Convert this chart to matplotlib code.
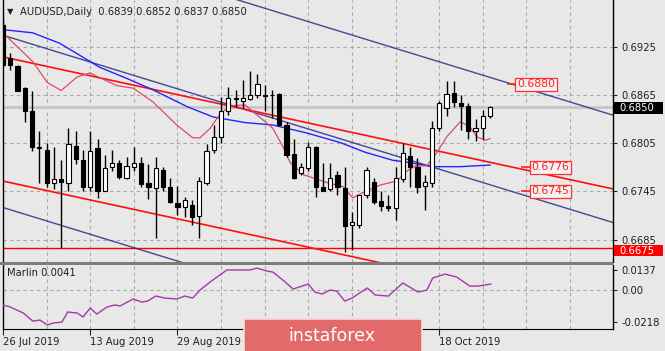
import numpy as np
import matplotlib
matplotlib.use("Agg")
import matplotlib.pyplot as plt
from matplotlib.patches import Rectangle

# ---- data ----
symbol_title = "AUDUSD,Daily  0.6839 0.6852 0.6837 0.6850"

opens = [0.6953, 0.6912, 0.6902, 0.6874, 0.6845, 0.6801, 0.6797, 0.6755, 0.6760, 0.6756,
         0.6802, 0.6784, 0.6750, 0.6799, 0.6746, 0.6775, 0.6781, 0.6762, 0.6775, 0.6781,
         0.6756, 0.6749, 0.6772, 0.6750, 0.6731, 0.6726, 0.6728, 0.6715, 0.6756, 0.6797,
         0.6813, 0.6845, 0.6862, 0.6858, 0.6860, 0.6866, 0.6865, 0.6865, 0.6867, 0.6828,
         0.6792, 0.6768, 0.6774, 0.6801, 0.6750, 0.6748, 0.6765, 0.6749, 0.6703, 0.6703,
         0.6741, 0.6757, 0.6733, 0.6727, 0.6724, 0.6761, 0.6789, 0.6775, 0.6752, 0.6756,
         0.6824, 0.6849, 0.6868, 0.6856, 0.6852, 0.6820, 0.6824, 0.6839]
highs = [0.6962, 0.6918, 0.6903, 0.6876, 0.6870, 0.6820, 0.6806, 0.6801, 0.6784, 0.6824,
         0.6820, 0.6797, 0.6820, 0.6810, 0.6791, 0.6797, 0.6784, 0.6788, 0.6800, 0.6788,
         0.6779, 0.6788, 0.6776, 0.6762, 0.6752, 0.6738, 0.6734, 0.6763, 0.6804, 0.6828,
         0.6863, 0.6876, 0.6872, 0.6884, 0.6895, 0.6892, 0.6878, 0.6872, 0.6868, 0.6832,
         0.6810, 0.6781, 0.6807, 0.6802, 0.6781, 0.6781, 0.6770, 0.6775, 0.6720, 0.6741,
         0.6776, 0.6762, 0.6745, 0.6741, 0.6775, 0.6806, 0.6801, 0.6787, 0.6766, 0.6833,
         0.6858, 0.6883, 0.6883, 0.6866, 0.6856, 0.6836, 0.6847, 0.6852]
lows = [0.6900, 0.6897, 0.6870, 0.6832, 0.6795, 0.6756, 0.6750, 0.6748, 0.6675, 0.6745,
        0.6779, 0.6745, 0.6745, 0.6737, 0.6745, 0.6770, 0.6760, 0.6760, 0.6770, 0.6750,
        0.6736, 0.6687, 0.6745, 0.6731, 0.6716, 0.6713, 0.6703, 0.6687, 0.6753, 0.6793,
        0.6806, 0.6841, 0.6851, 0.6849, 0.6859, 0.6862, 0.6845, 0.6837, 0.6827, 0.6788,
        0.6760, 0.6766, 0.6770, 0.6738, 0.6746, 0.6745, 0.6741, 0.6670, 0.6672, 0.6700,
        0.6737, 0.6730, 0.6721, 0.6721, 0.6710, 0.6757, 0.6750, 0.6743, 0.6722, 0.6751,
        0.6820, 0.6839, 0.6851, 0.6822, 0.6811, 0.6808, 0.6811, 0.6837]
closes = [0.6903, 0.6903, 0.6871, 0.6845, 0.6800, 0.6799, 0.6756, 0.6761, 0.6757, 0.6804,
          0.6785, 0.6750, 0.6796, 0.6746, 0.6774, 0.6780, 0.6763, 0.6777, 0.6781, 0.6754,
          0.6750, 0.6774, 0.6750, 0.6732, 0.6726, 0.6734, 0.6713, 0.6758, 0.6796, 0.6813,
          0.6846, 0.6862, 0.6860, 0.6862, 0.6866, 0.6879, 0.6864, 0.6865, 0.6828, 0.6791,
          0.6762, 0.6775, 0.6800, 0.6750, 0.6746, 0.6762, 0.6751, 0.6702, 0.6707, 0.6740,
          0.6772, 0.6732, 0.6727, 0.6725, 0.6762, 0.6793, 0.6776, 0.6751, 0.6757, 0.6824,
          0.6856, 0.6867, 0.6857, 0.6852, 0.6820, 0.6824, 0.6839, 0.6850]

# slow moving average (blue)
blue_ma_x = [0, 4.1, 7.8, 13.3, 16.8, 20.6, 25.3, 28.9, 33.3, 37.1, 41.8, 46.4, 49.8,
             53.6, 56, 59.1, 62.9, 67]
blue_ma_y = [0.6947, 0.6943, 0.6930, 0.6900, 0.6887, 0.6872, 0.6851, 0.6838, 0.6831,
             0.6828, 0.6818, 0.6806, 0.6794, 0.6784, 0.6781, 0.6776, 0.6776, 0.6778]

# fast moving average (crimson)
red_ma_x = [0, 4.1, 6.1, 8.0, 10.2, 12.0, 13.3, 15.7, 17.9, 20.6, 23.9, 26.1, 27.1, 28.5,
            29.8, 31.2, 33.3, 35.4, 37.1, 38.5, 39.5, 41.3, 42.6, 44.6, 46.8, 48.1, 49.8,
            51.9, 53.2, 54.2, 55.3, 56.7, 58.3, 59.7, 61.1, 62.9, 64.2, 65.2, 66.3, 67.0]
red_ma_y = [0.6943, 0.6907, 0.6881, 0.6871, 0.6888, 0.6893, 0.6887, 0.6877, 0.6874,
            0.6857, 0.6828, 0.6812, 0.6812, 0.6824, 0.6841, 0.6852, 0.6853, 0.6837,
            0.6824, 0.6801, 0.6781, 0.6766, 0.6762, 0.6756, 0.6751, 0.6737, 0.6745,
            0.6753, 0.6756, 0.6758, 0.6769, 0.6777, 0.6777, 0.6794, 0.6814, 0.6832,
            0.6826, 0.6813, 0.6809, 0.6811]

# Marlin oscillator
marlin_x = [0, 1.0, 2.8, 4.1, 5.1, 6.1, 6.9, 8.1, 8.9, 10.2, 11.0, 12.0, 12.9, 14.3, 15.4,
            16.1, 17.9, 19.1, 19.9, 21.0, 22.3, 23.9, 25.0, 26.1, 27.1, 28.5, 29.8, 30.8,
            34.0, 34.9, 36.3, 37.1, 38.5, 39.9, 42.0, 42.9, 43.9, 45.0, 45.9, 47.0, 48.0,
            50.1, 51.2, 53.0, 55.0, 57.1, 58.3, 59.1, 60.8, 62.4, 64.2, 65.3, 67.1]
marlin_y = [-0.0102, -0.0116, -0.0157, -0.0212, -0.0205, -0.0239, -0.0225, -0.0219,
            -0.0150, -0.0157, -0.0184, -0.0123, -0.0164, -0.0116, -0.0102, -0.0109,
            -0.0061, -0.0082, -0.0075, -0.0041, -0.0055, -0.0061, -0.0041, -0.0055,
            0.0, 0.0055, 0.0102, 0.0137, 0.0137, 0.0150, 0.0130, 0.0123, 0.0068, 0.0007,
            0.0041, -0.0014, -0.0027, 0.0, -0.0007, -0.0075, -0.0055, 0.0014, -0.0034,
            -0.0041, 0.0048, -0.0014, 0.0, 0.0082, 0.0109, 0.0089, 0.0027, 0.0027, 0.0041]

# trend lines: (bar start, bar end), (price start, price end)
navy_upper = ([0, 84], [0.7074, 0.6840])
navy_mid = ([0, 84], [0.6940, 0.6706])
navy_lower = ([0, 84], [0.6725, 0.6491])
red_upper = ([0, 84], [0.6913, 0.6748])
red_lower = ([0, 84], [0.6758, 0.6593])
support_level = 0.6675
last_price = 0.6850

# price labels placed on the lines
level_labels = [("0.6880", 69.4, 0.6879), ("0.6776", 71.4, 0.6775), ("0.6745", 71.4, 0.6745)]

date_pos = [0, 12, 24, 60]
date_labels = ["26 Jul 2019", "13 Aug 2019", "29 Aug 2019", "18 Oct 2019"]
price_ticks = [0.6925, 0.6865, 0.6805, 0.6745, 0.6685]
marlin_ticks = [0.0137, 0.0, -0.0218]
marlin_labels = ["0.0137", "0.00", "-0.0218"]

# ---- layout ----
W, H = 665, 351
bg = "#e8e8e8"
grid_c = "#a8a8a8"
fs = 7.2
plt.rcParams["font.family"] = ["DejaVu Sans"]


def fx(px):
    return px / W


def fy(py):
    return 1 - py / H


fig = plt.figure(figsize=(W / 100, H / 100), dpi=100, facecolor=bg)
ax = fig.add_axes([fx(3), fy(262), fx(613) - fx(3), fy(0) - fy(262)], facecolor=bg)
axm = fig.add_axes([fx(3), fy(329), fx(613) - fx(3), fy(265) - fy(329)], facecolor=bg, sharex=ax)

x_max = 83.9
ax.set_xlim(0, x_max)
ax.set_ylim(0.6657, 0.6984)
axm.set_ylim(-0.0266, 0.0171)

# grid
for a in (ax, axm):
    for gx in range(6, 84, 6):
        a.axvline(gx, color=grid_c, lw=0.8, ls=(0, (3, 3)), zorder=0)
for t in price_ticks:
    ax.axhline(t, color=grid_c, lw=0.8, ls=(0, (3, 3)), zorder=0)
axm.axhline(0, color=grid_c, lw=0.8, ls=(0, (3, 3)), zorder=0)

# current price line and support level
ax.axhline(last_price, color="#c6c6c6", lw=2, zorder=1)
ax.axhline(support_level, color="#ff0000", lw=1, zorder=2)

# trend lines
for ln in (navy_upper, navy_mid, navy_lower):
    ax.plot(ln[0], ln[1], color="#2b2b86", lw=1, alpha=0.85, zorder=2)
for ln in (red_upper, red_lower):
    ax.plot(ln[0], ln[1], color="#ff1010", lw=1.2, zorder=2)

# moving averages
ax.plot(blue_ma_x, blue_ma_y, color="#2424ff", lw=1, zorder=3)
ax.plot(red_ma_x, red_ma_y, color="#e04a64", lw=0.9, zorder=3)

# candles
idx = np.arange(len(opens))
o = np.array(opens)
c = np.array(closes)
ax.vlines(idx, lows, highs, color="black", lw=1, zorder=4)
faces = ["white" if cc >= oo else "black" for oo, cc in zip(o, c)]
ax.bar(idx, c - o, bottom=o, width=0.58, color=faces, edgecolor="black", lw=0.8, zorder=5)

# level labels
for txt, bx, py in level_labels:
    ax.plot([bx, bx + 1.3], [py, py], color="#ff2020", lw=1.2, zorder=6)
    ax.text(bx + 1.3, py, txt, color="#ff2020", fontsize=7.8, va="center", ha="left", zorder=7,
            bbox=dict(boxstyle="square,pad=0.15", fc="#f2f2f2", ec="#ff3030", lw=0.9))

# axes styling
for a in (ax, axm):
    a.spines["top"].set_visible(False)
    for s in ("left", "right"):
        a.spines[s].set_color("black")
        a.spines[s].set_linewidth(1)
    a.yaxis.tick_right()
    a.tick_params(axis="y", direction="out", length=3, pad=3, labelsize=fs, colors="#202020")
ax.spines["bottom"].set_visible(False)
axm.spines["bottom"].set_color("black")
ax.set_yticks(price_ticks)
ax.set_yticklabels(["%.4f" % t for t in price_ticks])
ax.tick_params(axis="x", bottom=False, labelbottom=False)
axm.set_yticks(marlin_ticks)
axm.set_yticklabels(marlin_labels)

axm.set_xticks(date_pos)
axm.set_xticklabels(date_labels)
axm.tick_params(axis="x", direction="out", length=4, pad=2, labelsize=fs, colors="#202020")
for lab in axm.get_xticklabels():
    lab.set_horizontalalignment("left")

# marlin line
axm.plot(marlin_x, marlin_y, color="#a23aa8", lw=1, zorder=3)

# separator between panels
fig.patches.append(Rectangle((0, fy(265)), fx(613), fy(261.5) - fy(265), transform=fig.transFigure,
                             fc="#7c7c7c", ec="none", zorder=10))

# header texts
fig.text(fx(7), fy(12), "\u25BC", fontsize=6, va="center", ha="left", color="#202020")
fig.text(fx(20), fy(12), symbol_title, fontsize=fs, va="center", ha="left", color="#202020")
fig.text(fx(7), fy(273), "Marlin 0.0041", fontsize=fs, va="center", ha="left", color="#202020")

# right axis price boxes
fig.patches.append(Rectangle((fx(614), fy(114)), fx(663) - fx(614), fy(102) - fy(114),
                             transform=fig.transFigure, fc="black", ec="none", zorder=10))
fig.text(fx(619), fy(108), "0.6850", fontsize=fs, color="white", va="center", ha="left", zorder=11)
fig.patches.append(Rectangle((fx(614), fy(256)), fx(663) - fx(614), fy(245) - fy(256),
                             transform=fig.transFigure, fc="#ff0000", ec="none", zorder=10))
fig.text(fx(619), fy(250.5), "0.6675", fontsize=fs, color="white", va="center", ha="left", zorder=11)

# watermark logo
fig.patches.append(Rectangle((fx(244), fy(352)), fx(422) - fx(244), fy(319) - fy(352),
                             transform=fig.transFigure, fc="#e36a6a", ec="#f6dcdc", lw=1.2, zorder=12))
fig.text(fx(332), fy(336), "instaforex", fontsize=12.5, color="white", va="center", ha="center",
         zorder=13)

fig.savefig("out.png", dpi=100, facecolor=bg)
